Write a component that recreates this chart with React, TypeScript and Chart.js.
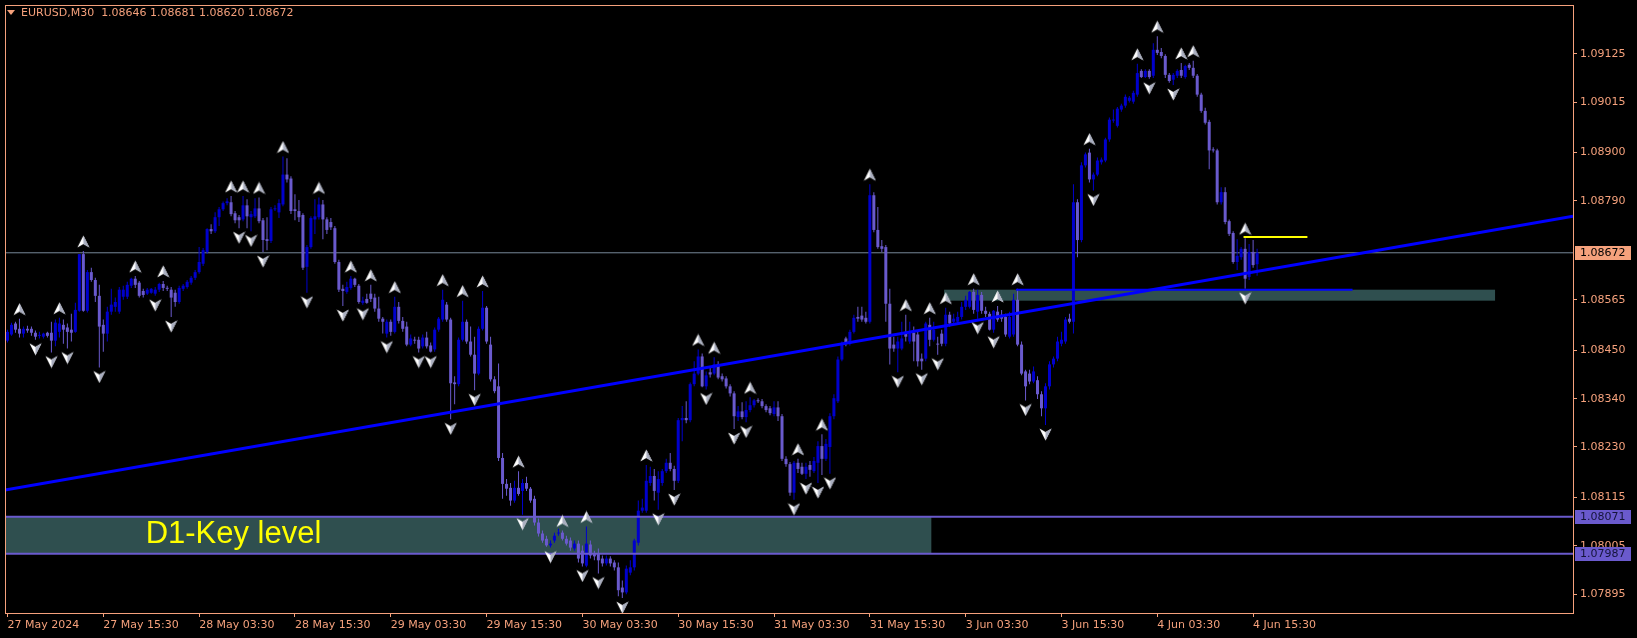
import React, { useEffect, useRef } from 'react';
import { Chart, registerables } from 'chart.js';

Chart.register(...registerables);

// EURUSD M30 candles, prices quoted in points (1 point = 0.00001)
const openPts = [
  108472,108486,108511,108499,108488,108499,108499,108490,108483,108481,
  108490,108490,108472,108492,108508,108502,108497,108492,108540,108669,
  108540,108628,108610,108574,108508,108488,108538,108549,108538,108572,
  108572,108597,108613,108604,108585,108579,108581,108579,108588,108601,
  108592,108588,108581,108560,108590,108594,108604,108615,108628,108647,
  108674,108726,108721,108753,108771,108785,108787,108762,108753,108748,
  108780,108753,108755,108773,108746,108703,108699,108771,108764,108782,
  108850,108841,108771,108767,108758,108640,108685,108748,108753,108782,
  108748,108742,108728,108651,108590,108583,108592,108613,108597,108558,
  108567,108579,108570,108545,108522,108488,108515,108492,108549,108517,
  108504,108463,108474,108474,108459,108479,108461,108452,108497,108520,
  108554,108520,108377,108373,108474,108515,108470,108440,108397,108499,
  108547,108463,108384,108368,108205,108146,108137,108108,108137,108130,
  108148,108135,108112,108058,108033,108021,108006,108017,108033,108035,
  108021,108017,107999,108010,107994,107960,108008,107987,107987,107976,
  107965,107976,107967,107956,107910,107899,107944,107956,108012,108085,
  108085,108148,108164,108126,108148,108175,108194,108180,108153,108291,
  108296,108291,108373,108397,108436,108368,108400,108397,108418,108391,
  108386,108368,108352,108298,108311,108298,108314,108325,108336,108334,
  108323,108318,108305,108320,108300,108203,108191,108126,108194,108185,
  108169,108189,108175,108194,108232,108203,108230,108300,108334,108429,
  108477,108465,108492,108526,108529,108524,108515,108803,108724,108687,
  108685,108556,108463,108454,108454,108492,108470,108490,108486,108431,
  108431,108508,108474,108465,108488,108465,108531,108515,108515,108526,
  108549,108549,108583,108538,108576,108540,108533,108497,108538,108531,
  108526,108481,108486,108565,108463,108402,108397,108379,108382,108350,
  108318,108368,108418,108431,108465,108470,108522,108515,108787,108701,
  108871,108900,108839,108850,108878,108882,108930,108973,108961,108998,
  109007,109018,109016,109032,109086,109072,109086,109075,109134,109129,
  109120,109077,109066,109075,109088,109072,109100,109093,109075,109032,
  108995,108970,108907,108905,108787,108810,108744,108717,108651,108662,
  108681,108617,108674,108646,
];

const highPts = [
  108497,108513,108515,108522,108504,108506,108504,108495,108492,108490,
  108492,108515,108520,108524,108520,108511,108533,108558,108669,108676,
  108633,108638,108615,108599,108520,108549,108590,108570,108594,108597,
  108606,108615,108619,108608,108590,108592,108592,108594,108604,108608,
  108597,108594,108588,108597,108601,108610,108619,108633,108685,108683,
  108728,108737,108764,108776,108789,108796,108801,108767,108758,108801,
  108794,108767,108796,108798,108751,108753,108776,108780,108794,108891,
  108887,108846,108805,108792,108762,108690,108755,108794,108798,108792,
  108753,108751,108733,108656,108599,108606,108619,108615,108601,108572,
  108579,108599,108579,108572,108526,108520,108520,108572,108560,108526,
  108515,108486,108481,108481,108486,108492,108468,108502,108526,108588,
  108560,108524,108391,108479,108563,108520,108504,108481,108504,108585,
  108551,108481,108391,108420,108216,108157,108148,108153,108175,108157,
  108162,108139,108119,108067,108040,108028,108017,108035,108044,108040,
  108028,108024,108017,108017,108006,108049,108017,107994,107999,107983,
  107983,107981,107972,107967,107926,107960,107972,108021,108108,108112,
  108189,108185,108180,108175,108180,108203,108216,108187,108296,108323,
  108334,108377,108425,108452,108443,108402,108413,108434,108425,108397,
  108391,108373,108357,108323,108332,108334,108343,108339,108341,108339,
  108327,108323,108334,108334,108305,108209,108196,108198,108203,108194,
  108194,108198,108207,108243,108259,108248,108307,108350,108436,108470,
  108481,108497,108531,108549,108549,108538,108828,108810,108776,108701,
  108690,108590,108481,108481,108515,108531,108515,108504,108492,108443,
  108515,108524,108515,108481,108497,108547,108538,108533,108538,108560,
  108574,108585,108590,108588,108583,108549,108538,108542,108551,108542,
  108533,108538,108579,108590,108470,108406,108406,108413,108391,108357,
  108375,108425,108436,108481,108492,108526,108533,108828,108794,108878,
  108900,108909,108855,108889,108889,108934,108980,108998,109004,109011,
  109032,109029,109041,109102,109090,109090,109090,109149,109165,109138,
  109124,109081,109081,109090,109104,109100,109104,109109,109079,109036,
  109002,108975,108912,108909,108821,108821,108748,108721,108703,108685,
  108705,108692,108701,108681,
];

const lowPts = [
  108468,108483,108490,108479,108479,108490,108483,108474,108477,108477,
  108479,108445,108459,108479,108465,108454,108470,108490,108538,108538,
  108536,108606,108560,108411,108447,108470,108531,108538,108533,108565,
  108567,108592,108592,108570,108570,108576,108579,108574,108583,108585,
  108585,108526,108549,108556,108585,108590,108599,108610,108624,108642,
  108669,108715,108717,108733,108767,108780,108755,108739,108728,108744,
  108728,108721,108751,108739,108674,108678,108694,108767,108751,108778,
  108832,108760,108746,108742,108633,108581,108681,108715,108748,108703,
  108715,108724,108647,108583,108551,108579,108588,108594,108556,108554,
  108556,108560,108538,108515,108488,108479,108483,108488,108511,108492,
  108459,108459,108465,108445,108454,108454,108445,108447,108492,108515,
  108515,108293,108327,108368,108470,108465,108436,108359,108393,108495,
  108465,108379,108352,108198,108112,108119,108096,108103,108119,108076,
  108130,108103,108051,108026,108012,108003,108001,108012,108028,108017,
  108006,107994,107994,107967,107958,107956,107976,107972,107942,107958,
  107960,107958,107949,107890,107886,107895,107938,107949,108006,108080,
  108080,108142,108108,108087,108142,108171,108175,108132,108148,108243,
  108284,108286,108368,108393,108366,108361,108388,108393,108384,108379,
  108363,108345,108271,108289,108293,108286,108309,108320,108330,108318,
  108309,108302,108300,108289,108198,108185,108119,108110,108171,108166,
  108157,108162,108171,108148,108166,108198,108169,108293,108330,108425,
  108459,108461,108488,108515,108515,108511,108511,108719,108681,108674,
  108515,108418,108447,108400,108450,108470,108465,108425,108413,108406,
  108425,108459,108470,108440,108459,108459,108504,108511,108511,108520,
  108542,108545,108533,108522,108533,108526,108495,108490,108515,108515,
  108481,108477,108481,108459,108393,108336,108373,108375,108339,108300,
  108280,108361,108411,108425,108459,108465,108511,108488,108662,108696,
  108866,108832,108814,108846,108873,108878,108925,108968,108957,108993,
  109002,109014,109011,109027,109070,109070,109068,109070,109122,109115,
  109070,109059,109054,109070,109070,109068,109088,109070,109027,108991,
  108964,108862,108900,108782,108782,108737,108710,108647,108633,108656,
  108590,108610,108638,108620,
];

const closePts = [
  108492,108508,108497,108488,108499,108495,108490,108481,108483,108488,
  108483,108472,108513,108511,108497,108492,108490,108542,108669,108540,
  108628,108610,108574,108504,108488,108538,108554,108560,108588,108588,
  108599,108613,108599,108574,108576,108588,108590,108588,108601,108592,
  108590,108570,108560,108592,108597,108606,108615,108628,108651,108678,
  108726,108721,108753,108771,108785,108789,108760,108746,108746,108780,
  108755,108760,108773,108744,108701,108699,108771,108773,108785,108850,
  108839,108767,108767,108753,108638,108685,108751,108755,108782,108748,
  108724,108730,108651,108588,108585,108594,108613,108599,108560,108563,
  108558,108567,108545,108522,108515,108515,108492,108549,108517,108499,
  108463,108477,108472,108454,108479,108459,108447,108497,108522,108565,
  108520,108375,108373,108474,108515,108470,108440,108397,108499,108547,
  108470,108384,108357,108205,108146,108135,108108,108137,108123,108148,
  108135,108108,108058,108033,108017,108006,108010,108028,108035,108021,
  108010,108001,108010,107976,107965,108010,107983,107981,107972,107965,
  107976,107965,107956,107904,107899,107953,107956,108017,108085,108092,
  108153,108164,108130,108157,108175,108194,108180,108153,108291,108296,
  108291,108373,108397,108436,108368,108393,108395,108418,108388,108384,
  108368,108352,108300,108311,108298,108314,108325,108336,108334,108323,
  108314,108307,108320,108300,108203,108191,108126,108194,108180,108169,
  108185,108178,108198,108232,108203,108237,108300,108341,108429,108463,
  108465,108492,108524,108522,108520,108515,108803,108724,108685,108681,
  108556,108454,108454,108470,108477,108481,108492,108470,108425,108425,
  108511,108474,108497,108463,108465,108531,108511,108522,108526,108549,
  108565,108583,108542,108576,108540,108533,108497,108540,108520,108522,
  108486,108526,108565,108463,108397,108368,108379,108402,108350,108318,
  108368,108418,108431,108470,108474,108520,108515,108787,108701,108871,
  108896,108839,108850,108882,108884,108930,108975,108975,109000,109007,
  109027,109025,109036,109081,109072,109086,109072,109134,109127,109120,
  109077,109063,109077,109086,109075,109097,109093,109075,109032,108995,
  108968,108905,108905,108787,108810,108742,108715,108651,108665,108681,
  108613,108674,108644,108672,
];

const xTickBars = [0, 24, 48, 72, 96, 120, 144, 168, 192, 216, 240, 264, 288, 312];
const xTickLabels = [
  '27 May 2024', '27 May 15:30', '28 May 03:30', '28 May 15:30', '29 May 03:30',
  '29 May 15:30', '30 May 03:30', '30 May 15:30', '31 May 03:30', '31 May 15:30',
  '3 Jun 03:30', '3 Jun 15:30', '4 Jun 03:30', '4 Jun 15:30',
];
const yTickValues = [1.09125, 1.09015, 1.089, 1.0879, 1.08565, 1.0845, 1.0834, 1.0823, 1.08115, 1.08005, 1.07895];

const upFractalBars = [3, 13, 19, 32, 39, 56, 59, 63, 69, 78, 86, 91, 97, 109, 114, 119, 128, 139, 145, 160, 173, 177, 186, 198, 204, 216, 225, 231, 235, 242, 248, 253, 271, 283, 288, 294, 297, 310];
const downFractalBars = [7, 11, 15, 23, 37, 41, 58, 61, 64, 75, 84, 89, 95, 103, 106, 111, 117, 129, 136, 144, 148, 154, 163, 167, 175, 182, 185, 197, 200, 203, 206, 223, 229, 233, 243, 247, 255, 260, 272, 286, 292, 310];

const currentPrice = 1.08672;
const keyLevelPrices = [1.08071, 1.07987];
const keyZoneBars = [-0.625, 231.4];
const keyLabelBar = 34.6;
const keyLabelText = 'D1-Key level';
const smallZoneBars = [234.6, 372.6];
const smallZonePrices = [1.08588, 1.08563];
const trendBars = [-0.625, 392.125];
const trendPrices = [1.08132, 1.08755];
const blueLineBars = [252.6, 336.9];
const blueLinePrice = 1.08588;
const yellowLineBars = [309.6, 325.6];
const yellowLinePrice = 1.08708;
const titleText = 'EURUSD,M30  1.08646 1.08681 1.08620 1.08672';

const X_MIN = -0.625;
const X_MAX = 392.125;
const Y_MIN = 1.078521;
const Y_MAX = 1.09236;

const FG = '#F5A17C';
const BULL = '#0000CD';
const BEAR = '#6A5ACD';
const FONT = 'DejaVu Sans';

function makeArrow(up: boolean): HTMLCanvasElement {
  const c = document.createElement('canvas');
  c.width = 13;
  c.height = 32;
  const g = c.getContext('2d')!;
  if (up) {
    const t = 0.5;
    g.beginPath();
    g.moveTo(6.5, t); g.lineTo(12.5, t + 12); g.lineTo(6.5, t + 8.5); g.lineTo(0.5, t + 12); g.closePath();
    g.fillStyle = '#ffffff'; g.fill();
    g.beginPath();
    g.moveTo(6.5, t); g.lineTo(12.5, t + 12); g.lineTo(6.5, t + 8.5); g.closePath();
    g.fillStyle = '#a9aebf'; g.fill();
  } else {
    const t = 19.5;
    g.beginPath();
    g.moveTo(0.5, t); g.lineTo(6.5, t + 3.5); g.lineTo(12.5, t); g.lineTo(6.5, t + 12); g.closePath();
    g.fillStyle = '#ffffff'; g.fill();
    g.beginPath();
    g.moveTo(6.5, t + 3.5); g.lineTo(12.5, t); g.lineTo(6.5, t + 12); g.closePath();
    g.fillStyle = '#a9aebf'; g.fill();
  }
  return c;
}

export default function App() {
  const ref = useRef<HTMLCanvasElement | null>(null);

  useEffect(() => {
    const canvas = ref.current;
    if (!canvas) return;
    const P = (v: number) => v / 100000;
    const colors = openPts.map((o, i) => (closePts[i] >= o ? BULL : BEAR));
    const upImg = makeArrow(true);
    const downImg = makeArrow(false);

    const overlay = {
      id: 'overlay',
      beforeDraw(chart: any) {
        const { ctx } = chart;
        ctx.save();
        ctx.fillStyle = '#000000';
        ctx.fillRect(0, 0, chart.width, chart.height);
        ctx.restore();
      },
      beforeDatasetsDraw(chart: any) {
        const { ctx, chartArea } = chart;
        const xs = chart.scales.x;
        const ys = chart.scales.y;
        ctx.save();
        ctx.beginPath();
        ctx.rect(chartArea.left, chartArea.top, chartArea.right - chartArea.left, chartArea.bottom - chartArea.top);
        ctx.clip();
        ctx.fillStyle = '#2F4F4F';
        const kx0 = xs.getPixelForValue(keyZoneBars[0]);
        const kx1 = xs.getPixelForValue(keyZoneBars[1]);
        const ky0 = ys.getPixelForValue(keyLevelPrices[0]);
        const ky1 = ys.getPixelForValue(keyLevelPrices[1]);
        ctx.fillRect(kx0, ky0, kx1 - kx0, ky1 - ky0);
        const sx0 = xs.getPixelForValue(smallZoneBars[0]);
        const sx1 = xs.getPixelForValue(smallZoneBars[1]);
        const sy0 = ys.getPixelForValue(smallZonePrices[0]);
        const sy1 = ys.getPixelForValue(smallZonePrices[1]);
        ctx.fillRect(sx0, sy0, sx1 - sx0, sy1 - sy0);
        ctx.restore();
      },
      afterDraw(chart: any) {
        const { ctx, chartArea } = chart;
        const xs = chart.scales.x;
        const ys = chart.scales.y;
        ctx.save();
        const midY = (ys.getPixelForValue(keyLevelPrices[0]) + ys.getPixelForValue(keyLevelPrices[1])) / 2;
        ctx.font = '31px "Liberation Sans"';
        ctx.fillStyle = '#FFFF00';
        ctx.textBaseline = 'alphabetic';
        ctx.textAlign = 'left';
        ctx.fillText(keyLabelText, xs.getPixelForValue(keyLabelBar), midY + 8);
        ctx.strokeStyle = FG;
        ctx.lineWidth = 1;
        ctx.strokeRect(chartArea.left + 0.5, chartArea.top + 0.5, chartArea.right - chartArea.left, chartArea.bottom - chartArea.top);
        ctx.fillStyle = FG;
        ctx.beginPath();
        ctx.moveTo(7, 10); ctx.lineTo(15, 10); ctx.lineTo(11, 15); ctx.closePath();
        ctx.fill();
        ctx.font = `11px "${FONT}"`;
        ctx.textBaseline = 'middle';
        ctx.fillText(titleText, 21, 13);
        const boxes = [
          { v: currentPrice, bg: FG, fg: '#000000' },
          { v: keyLevelPrices[0], bg: '#6A5ACD', fg: '#14143A' },
          { v: keyLevelPrices[1], bg: '#6A5ACD', fg: '#14143A' },
        ];
        for (const b of boxes) {
          const y = Math.round(ys.getPixelForValue(b.v));
          const x0 = chartArea.right + 2;
          ctx.fillStyle = b.bg;
          ctx.fillRect(x0, y - 7, 56, 14);
          ctx.fillStyle = b.fg;
          ctx.font = `11px "${FONT}"`;
          ctx.textBaseline = 'middle';
          ctx.fillText(b.v.toFixed(5), x0 + 5, y + 0.5);
        }
        ctx.restore();
      },
    };

    const hline = (x0: number, x1: number, y: number) => [{ x: x0, y }, { x: x1, y }];

    const chart = new Chart(canvas, {
      type: 'bar',
      data: {
        datasets: [
          {
            type: 'line', label: 'price', data: hline(X_MIN, X_MAX, currentPrice),
            borderColor: '#778899', borderWidth: 1, pointRadius: 0, order: 30,
          } as any,
          {
            type: 'bar', label: 'wicks',
            data: openPts.map((_, i) => ({ x: i, y: [P(lowPts[i]), P(highPts[i])] })),
            backgroundColor: colors, barThickness: 1, grouped: false, inflateAmount: 0, borderWidth: 0, order: 20,
          } as any,
          {
            type: 'bar', label: 'bodies',
            data: openPts.map((o, i) => ({ x: i, y: [P(o), P(closePts[i])] })),
            backgroundColor: colors, barThickness: 3, minBarLength: 1, grouped: false, inflateAmount: 0, borderWidth: 0, order: 19,
          } as any,
          {
            type: 'line', label: 'key top', data: hline(X_MIN, X_MAX, keyLevelPrices[0]),
            borderColor: '#6A5ACD', borderWidth: 2, pointRadius: 0, order: 10,
          } as any,
          {
            type: 'line', label: 'key bottom', data: hline(X_MIN, X_MAX, keyLevelPrices[1]),
            borderColor: '#6A5ACD', borderWidth: 2, pointRadius: 0, order: 10,
          } as any,
          {
            type: 'line', label: 'trend',
            data: [{ x: trendBars[0], y: trendPrices[0] }, { x: trendBars[1], y: trendPrices[1] }],
            borderColor: '#0000FF', borderWidth: 3, pointRadius: 0, order: 8,
          } as any,
          {
            type: 'line', label: 'level', data: hline(blueLineBars[0], blueLineBars[1], blueLinePrice),
            borderColor: '#0000FF', borderWidth: 2, pointRadius: 0, order: 7,
          } as any,
          {
            type: 'line', label: 'yellow', data: hline(yellowLineBars[0], yellowLineBars[1], yellowLinePrice),
            borderColor: '#FFFF00', borderWidth: 2, pointRadius: 0, order: 7,
          } as any,
          {
            type: 'line', label: 'up fractals', showLine: false,
            data: upFractalBars.map((i) => ({ x: i, y: P(highPts[i]) })),
            pointStyle: upImg, pointRadius: 4, order: 1,
          } as any,
          {
            type: 'line', label: 'down fractals', showLine: false,
            data: downFractalBars.map((i) => ({ x: i, y: P(lowPts[i]) })),
            pointStyle: downImg, pointRadius: 4, order: 1,
          } as any,
        ],
      },
      options: {
        responsive: false,
        devicePixelRatio: 1,
        animation: false,
        events: [],
        layout: { padding: { left: 2, top: 2, right: 0, bottom: 0 } },
        plugins: { legend: { display: false }, tooltip: { enabled: false } },
        scales: {
          x: {
            type: 'linear', min: X_MIN, max: X_MAX, offset: false, bounds: 'data',
            afterBuildTicks: (s: any) => { s.ticks = xTickBars.map((v) => ({ value: v })); },
            afterFit: (s: any) => {
              s.height = 25;
              s.paddingLeft = 0; s.paddingRight = 0; s.paddingTop = 0; s.paddingBottom = 0;
            },
            ticks: {
              autoSkip: false, maxRotation: 0, minRotation: 0, align: 'start', padding: 2,
              color: FG, font: { family: FONT, size: 11 },
              callback: (v: any) => {
                const k = xTickBars.indexOf(Number(v));
                return k >= 0 ? xTickLabels[k] : '';
              },
            },
            grid: { display: true, drawOnChartArea: false, drawTicks: true, tickLength: 4, color: FG, offset: false },
            border: { display: true, color: FG },
          },
          y: {
            type: 'linear', position: 'right', min: Y_MIN, max: Y_MAX, bounds: 'data',
            afterBuildTicks: (s: any) => { s.ticks = yTickValues.map((v) => ({ value: v })); },
            afterFit: (s: any) => {
              s.width = 64;
              s.paddingLeft = 0; s.paddingRight = 0; s.paddingTop = 0; s.paddingBottom = 0;
            },
            ticks: {
              autoSkip: false, padding: 3, color: FG, font: { family: FONT, size: 11 },
              callback: (v: any) => Number(v).toFixed(5),
            },
            grid: { display: true, drawOnChartArea: false, drawTicks: true, tickLength: 4, color: FG },
            border: { display: true, color: FG },
          },
        },
      } as any,
      plugins: [overlay],
    });

    return () => chart.destroy();
  }, []);

  return (
    <div style={{ position: 'fixed', left: 0, top: 0, width: 1637, height: 638, background: '#000' }}>
      <canvas ref={ref} width={1637} height={638} style={{ display: 'block', width: 1637, height: 638 }} />
    </div>
  );
}
